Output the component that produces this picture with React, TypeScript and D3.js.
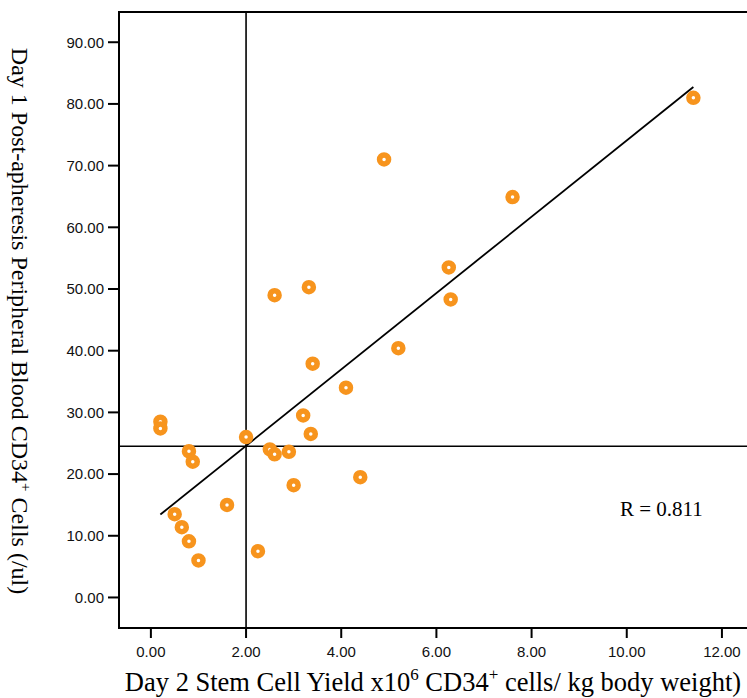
import React from "react";
import * as d3 from "d3";

const xValues = [11.4, 4.9, 7.6, 6.26, 6.3, 3.32, 2.6, 5.2, 3.4, 4.1, 3.2, 3.36, 0.2, 0.2, 2.0, 0.8, 0.88, 2.5, 2.6, 2.9, 3.0, 4.4, 1.6, 0.5, 0.65, 0.8, 1.0, 2.25];
const yValues = [81.0, 71.0, 64.9, 53.5, 48.3, 50.3, 49.0, 40.4, 37.9, 34.0, 29.5, 26.5, 28.5, 27.4, 26.0, 23.7, 22.0, 24.0, 23.2, 23.6, 18.2, 19.5, 15.0, 13.5, 11.4, 9.1, 6.0, 7.5];
const xTicks = [0, 2, 4, 6, 8, 10, 12];
const yTicks = [0, 10, 20, 30, 40, 50, 60, 70, 80, 90];
const fitX = [0.2, 11.4];
const fitY = [13.45, 82.75];
const refX = 2.0;
const refY = 24.5;
const rLabel = "R = 0.811";

const W = 747;
const H = 698;
const left = 119, right = 760, top = 12, bottom = 628;

export default function App() {
  const x = d3.scaleLinear().domain([-0.67, 12.8]).range([left, right]);
  const y = d3.scaleLinear().domain([-4.95, 94.9]).range([bottom, top]);
  const line = d3.line<number>().x((_, i) => x(fitX[i])).y((d) => y(d));
  const orange = "#F7941D";
  const sans = "'Liberation Sans', Arial, sans-serif";
  const serif = "'Liberation Serif', 'Times New Roman', serif";
  return (
    <svg width={W} height={H} style={{ position: "absolute", left: 0, top: 0, background: "#fff" }}>
      <rect x={0} y={0} width={W} height={H} fill="#fff" />
      <path d={`M${right},${top}H${left}V${bottom}H${right}`} fill="none" stroke="#000" strokeWidth={2} />
      {yTicks.map((t) => (
        <g key={"y" + t}>
          <line x1={left - 11} x2={left} y1={y(t)} y2={y(t)} stroke="#000" strokeWidth={2} />
          <text x={left - 15} y={y(t)} dy="0.36em" textAnchor="end" fontFamily={sans} fontSize={15} fill="#111">
            {t.toFixed(2)}
          </text>
        </g>
      ))}
      {xTicks.map((t) => (
        <g key={"x" + t}>
          <line x1={x(t)} x2={x(t)} y1={bottom} y2={bottom + 10} stroke="#000" strokeWidth={2} />
          <text x={x(t)} y={bottom + 29} textAnchor="middle" fontFamily={sans} fontSize={15} fill="#111">
            {t.toFixed(2)}
          </text>
        </g>
      ))}
      <line x1={x(refX)} x2={x(refX)} y1={top} y2={bottom} stroke="#000" strokeWidth={1.6} />
      <line x1={left} x2={right} y1={y(refY)} y2={y(refY)} stroke="#000" strokeWidth={1.6} />
      <path d={line(fitY) || ""} fill="none" stroke="#000" strokeWidth={1.8} />
      {xValues.map((v, i) => (
        <circle key={i} cx={x(v)} cy={y(yValues[i])} r={4.5} fill="#fff" stroke={orange} strokeWidth={5.5} />
      ))}
      <text x={620} y={y(13.2)} fontFamily={serif} fontSize={21} fill="#000">{rLabel}</text>
      <text x={433} y={691} textAnchor="middle" fontFamily={serif} fontSize={26.5} fill="#000">
        Day 2 Stem Cell Yield x10<tspan dy={-11} fontSize={17}>6</tspan>
        <tspan dy={11}> CD34</tspan><tspan dy={-11} fontSize={17}>+</tspan>
        <tspan dy={11}> cells/ kg body weight)</tspan>
      </text>
      <text transform={`translate(12, 321) rotate(90)`} textAnchor="middle" fontFamily={serif} fontSize={24} fill="#000">
        Day 1 Post-apheresis Peripheral Blood CD34<tspan dy={-9} fontSize={15}>+</tspan>
        <tspan dy={9}> Cells (/ul)</tspan>
      </text>
    </svg>
  );
}
